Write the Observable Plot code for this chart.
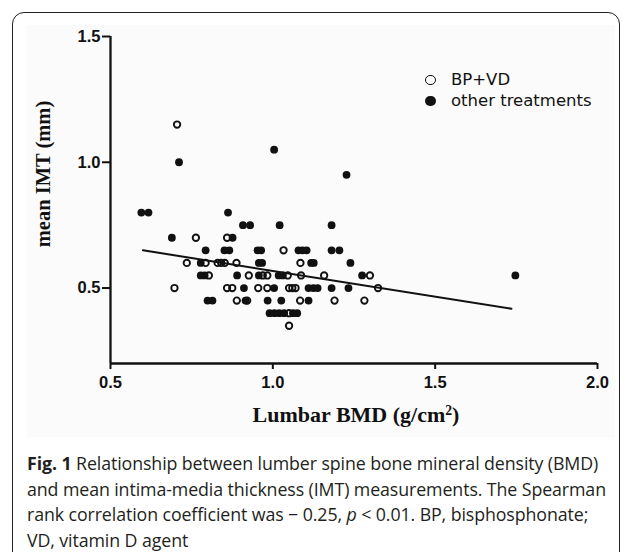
<!DOCTYPE html>
<html>
<head>
<meta charset="utf-8">
<script src="https://cdn.jsdelivr.net/npm/d3@7"></script>
<script src="https://cdn.jsdelivr.net/npm/@observablehq/plot@0.6"></script>
<style>
  html, body { margin: 0; padding: 0; background: #fff; }
  body { width: 633px; height: 552px; position: relative; overflow: hidden; }
  #frame { position: absolute; left: 12px; top: 12px; width: 608px; height: 620px;
           border: 1.6px solid #222; border-radius: 12px; box-sizing: border-box; }
  #tint { position: absolute; left: 27px; top: 25px; width: 588px; height: 412px; background: #fbfbfb; }
  #chart { position: absolute; left: 0; top: 0; }
  #legend { position: absolute; left: 420px; top: 68px; font-family: "DejaVu Sans", sans-serif;
            font-size: 16.5px; color: #111; }
  .lg { position: absolute; white-space: nowrap; left: 31px; line-height: 20px; }
  .mk { position: absolute; border-radius: 50%; box-sizing: border-box; }
  #caption { position: absolute; left: 27px; top: 451px; font-family: "Open Sans", sans-serif;
             font-size: 17.8px; line-height: 25.5px; color: #231f20; white-space: nowrap; letter-spacing: -0.1px; }
</style>
</head>
<body>
<div id="tint"></div>
<div id="frame"></div>
<div id="chart"></div>
<div id="legend"></div>
<div id="caption"></div>
<script>
// ---- data ----
const xDomain = [0.5, 2.0];
const yDomain = [0.2, 1.5];
const xTicks = [0.5, 1.0, 1.5, 2.0];
const yTicks = [0.5, 1.0, 1.5];
const xLabel = "Lumbar BMD (g/cm2)";
const yLabel = "mean IMT (mm)";
const seriesNames = ["BP+VD", "other treatments"];

// BP+VD (open circles)
const bpvdX = [0.705, 0.763, 0.859, 1.033, 0.735, 0.793, 0.830, 0.841, 0.852, 0.888, 1.085,
  0.803, 0.926, 0.969, 0.983, 1.046, 1.087, 1.158, 1.299,
  0.697, 0.859, 0.875, 0.955, 0.983, 1.050, 1.060, 1.070, 1.324,
  0.889, 0.921, 1.084, 1.190, 1.282, 1.050, 1.050];
const bpvdY = [1.15, 0.70, 0.70, 0.65, 0.60, 0.60, 0.60, 0.60, 0.60, 0.60, 0.60,
  0.55, 0.55, 0.55, 0.55, 0.55, 0.55, 0.55, 0.55,
  0.50, 0.50, 0.50, 0.50, 0.50, 0.50, 0.50, 0.50, 0.50,
  0.45, 0.45, 0.45, 0.45, 0.45, 0.40, 0.35];

// other treatments (filled circles)
const otherX = [1.004, 0.711, 1.227,
  0.595, 0.617, 0.862,
  0.908, 0.930, 1.021, 1.181,
  0.689, 0.876,
  0.793, 0.851, 0.866, 0.953, 0.964, 1.079, 1.091, 1.104, 1.181, 1.205,
  0.778, 0.957, 0.967, 1.118, 1.126, 1.239,
  0.778, 0.790, 0.890, 0.957, 1.018, 1.031, 1.275, 1.747,
  0.911, 1.004, 1.110, 1.125, 1.138, 1.181, 1.233,
  0.799, 0.814, 0.916, 0.984, 1.026, 1.110,
  0.990, 1.005, 1.020, 1.035, 1.062, 1.075];
const otherY = [1.05, 1.00, 0.95,
  0.80, 0.80, 0.80,
  0.75, 0.75, 0.75, 0.75,
  0.70, 0.70,
  0.65, 0.65, 0.65, 0.65, 0.65, 0.65, 0.65, 0.65, 0.65, 0.65,
  0.60, 0.60, 0.60, 0.60, 0.60, 0.60,
  0.55, 0.55, 0.55, 0.55, 0.55, 0.55, 0.55, 0.55,
  0.50, 0.50, 0.50, 0.50, 0.50, 0.50, 0.50,
  0.45, 0.45, 0.45, 0.45, 0.45, 0.45,
  0.40, 0.40, 0.40, 0.40, 0.40, 0.40];

// regression line end points
const trendX = [0.60, 1.735];
const trendY = [0.650, 0.418];

// ---- build tables ----
const bpvd = bpvdX.map((x, i) => ({x, y: bpvdY[i]}));
const other = otherX.map((x, i) => ({x, y: otherY[i]}));
const trend = trendX.map((x, i) => ({x, y: trendY[i]}));
const fmt = d3.format(".1f");

const chart = Plot.plot({
  width: 633,
  height: 440,
  marginLeft: 110,
  marginRight: 36,
  marginTop: 36,
  marginBottom: 77,
  x: {domain: xDomain},
  y: {domain: yDomain},
  style: {fontFamily: "'Liberation Sans', Arial, sans-serif", fontSize: "16.5px", color: "#111", background: "transparent", overflow: "visible"},
  marks: [
    Plot.axisX({ticks: xTicks, tickFormat: fmt, tickSize: 6, tickPadding: 7, strokeWidth: 2, label: null, fontSize: 16.5, fontWeight: "bold"}),
    Plot.axisY({ticks: yTicks, tickFormat: fmt, tickSize: 8, tickPadding: 2, strokeWidth: 2, label: null, fontSize: 16.5, fontWeight: "bold"}),
    Plot.ruleX([xDomain[0]], {y1: yDomain[0], y2: yDomain[1], strokeWidth: 2.3, stroke: "#111"}),
    Plot.ruleY([yDomain[0]], {x1: xDomain[0], x2: xDomain[1], strokeWidth: 2.3, stroke: "#111"}),
    Plot.line(trend, {x: "x", y: "y", stroke: "#111", strokeWidth: 2}),
    Plot.dot(other, {x: "x", y: "y", r: 3.9, fill: "#111", stroke: "none"}),
    Plot.dot(bpvd, {x: "x", y: "y", r: 3.2, fill: "none", stroke: "#111", strokeWidth: 1.9}),
    Plot.text([yLabel], {text: d => d, frameAnchor: "left", dx: -67, dy: -26, rotate: -90,
      textAnchor: "middle", lineAnchor: "middle", fontFamily: "'Liberation Serif', 'Times New Roman', serif",
      fontWeight: "bold", fontSize: 20.5, fill: "#111"}),
    Plot.text([xLabel], {text: d => d, frameAnchor: "bottom", dx: 2, dy: 51,
      textAnchor: "middle", lineAnchor: "middle", fontFamily: "'Liberation Serif', 'Times New Roman', serif",
      fontWeight: "bold", fontSize: 22, fill: "#111"})
  ]
});
document.getElementById("chart").appendChild(chart);

// superscript for cm2
chart.querySelectorAll("text").forEach(t => {
  if (t.textContent === xLabel) {
    const ns = "http://www.w3.org/2000/svg";
    t.textContent = "";
    t.appendChild(document.createTextNode(xLabel.slice(0, -2)));
    const sup = document.createElementNS(ns, "tspan");
    sup.setAttribute("dy", "-0.45em");
    sup.setAttribute("font-size", "0.62em");
    sup.textContent = xLabel.slice(-2, -1);
    t.appendChild(sup);
    const close = document.createElementNS(ns, "tspan");
    close.setAttribute("dy", "0.28em");
    close.textContent = xLabel.slice(-1);
    t.appendChild(close);
  }
});

// legend
const legend = document.getElementById("legend");
legend.innerHTML =
  `<div class="mk" style="left:5px;top:6.5px;width:10.5px;height:10.5px;border:1.7px solid #111;background:none"></div>` +
  `<div class="lg" style="top:2px">${seriesNames[0]}</div>` +
  `<div class="mk" style="left:5px;top:27.5px;width:10.5px;height:10.5px;background:#111"></div>` +
  `<div class="lg" style="top:22.5px">${seriesNames[1]}</div>`;

// caption
document.getElementById("caption").innerHTML =
  `<b>Fig. 1</b> Relationship between lumber spine bone mineral density (BMD)<br>` +
  `and mean intima-media thickness (IMT) measurements. The Spearman<br>` +
  `rank correlation coefficient was \u2212 0.25, <i>p</i> &lt; 0.01. BP, bisphosphonate;<br>` +
  `VD, vitamin D agent`;
</script>
</body>
</html>
